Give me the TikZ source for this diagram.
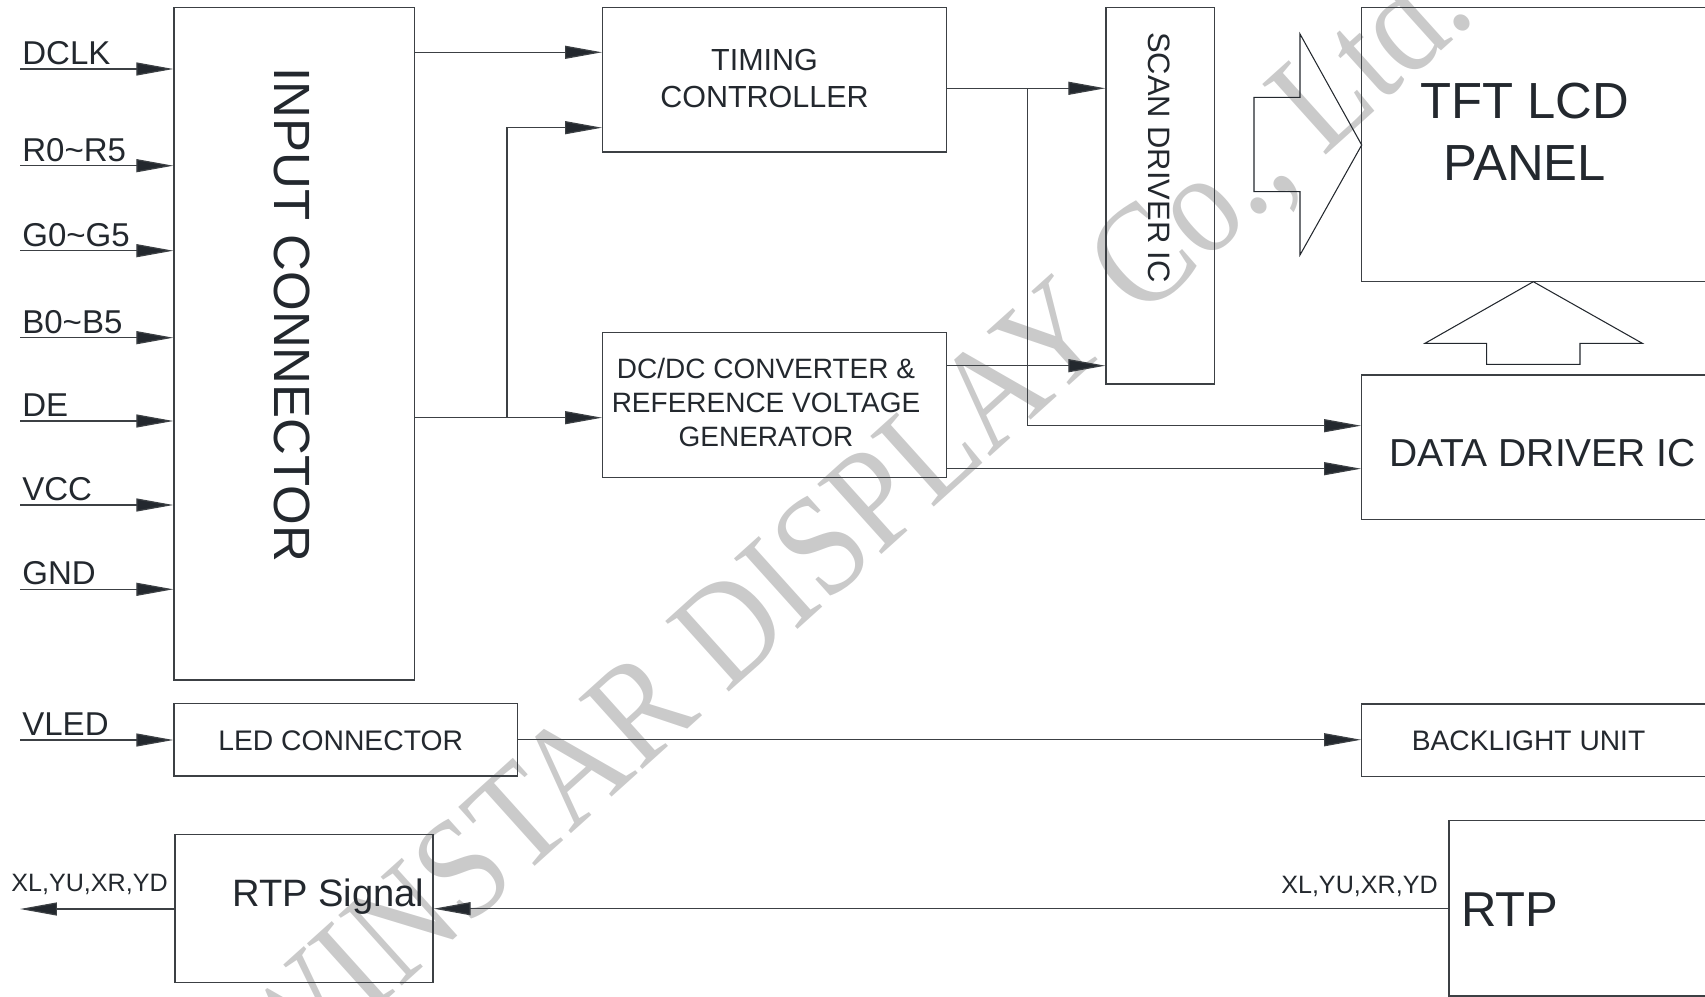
\documentclass[tikz,border=0pt]{standalone}
\usepackage{fontspec}
\setmainfont{Liberation Sans}
\newfontfamily\wmfont{Liberation Serif}
\usetikzlibrary{arrows.meta,fit}
\definecolor{ink}{RGB}{35,40,46}
\definecolor{wire}{RGB}{60,64,68}
\definecolor{wmgray}{RGB}{202,202,202}
\newcommand\fpx[2]{\fontsize{#1}{#2}\selectfont}
\begin{document}
\begin{tikzpicture}[x=0.02cm,y=-0.02cm,
  blk/.style={draw=wire, line width=0.8pt, inner sep=0pt},
  txt/.style={inner sep=0pt, text=ink},
  lab/.style={txt, anchor=base west, font=\fpx{18.8}{22}},
  conn/.style={draw=wire, line width=0.7pt},
  arr/.style={conn, -{Triangle[length=0.74cm,width=0.26cm,fill=ink]}},
  hollow/.style={draw=ink, line width=0.6pt, line join=miter},
]
\useasboundingbox (0,0) rectangle (1705,997);
\clip (0,0) rectangle (1705,997);

% watermark
\node[txt, text=wmgray, anchor=base west, rotate=42, font=\wmfont\fpx{82.5}{90}] (wmark) at (278,1098) {\scalebox{0.88}[1]{WINSTAR DISPLAY Co., Ltd.}};

% blocks
\node[blk, fit={(174,7.3) (414.5,680)}] (inconn) {};
\node[blk, fit={(602.7,7.5) (946.5,152)}] (tc) {};
\node[blk, fit={(602.7,332.7) (946.5,477.3)}] (dcdc) {};
\node[blk, fit={(1106,7.3) (1214.5,384)}] (scan) {};
\node[blk, fit={(1361.7,7.3) (1730,281.7)}] (tft) {};
\node[blk, fit={(1361.7,375) (1730,519.3)}] (data) {};
\node[blk, fit={(174,703.5) (517.7,776)}] (led) {};
\node[blk, fit={(1361.7,704) (1730,776.4)}] (bl) {};
\node[blk, fit={(175,834.7) (433,982.7)}] (rtps) {};
\node[blk, fit={(1449,820.7) (1730,996)}] (rtp) {};

% block texts
\node[txt, rotate=-90, font=\fpx{29}{35}] (tInconn) at (292,315) {INPUT CONNECTOR};
\node[txt, align=center, font=\fpx{17.36}{21.4}] (tTc) at (764.5,78.6) {TIMING\\CONTROLLER};
\node[txt, align=center, font=\fpx{15.93}{19.26}] (tDc) at (766,402.8) {DC/DC CONVERTER \&\\REFERENCE VOLTAGE\\GENERATOR};
\node[txt, rotate=-90, font=\fpx{17.6}{21}] (tScan) at (1158.7,157.5) {SCAN DRIVER IC};
\node[txt, align=center, font=\fpx{28.9}{35.3}] (tTft) at (1524.5,131.8) {TFT LCD\\PANEL};
\node[txt, anchor=base west, font=\fpx{22.2}{26}] (tData) at (1389.3,466) {DATA DRIVER IC};
\node[txt, anchor=base west, font=\fpx{16.1}{19}] (tLed) at (218,750) {LED CONNECTOR};
\node[txt, anchor=base west, font=\fpx{16.05}{19}] (tBl) at (1411.5,750.5) {BACKLIGHT UNIT};
\node[txt, anchor=base west, font=\fpx{21.7}{26}] (tRtps) at (232,906.7) {RTP Signal};
\node[txt, anchor=base west, font=\fpx{27.9}{33}] (tRtp) at (1460.7,926) {RTP};
\node[txt, anchor=base west, font=\fpx{14.3}{17}] (tXl) at (11,891.7) {XL,YU,XR,YD};
\node[txt, anchor=base east, font=\fpx{14.3}{17}] (tXr) at (1438,893.3) {XL,YU,XR,YD};

% input signals
\foreach \nm/\yy/\lb in {dclk/69/DCLK, rr/165.7/R0\textasciitilde R5, gg/250.7/G0\textasciitilde G5, bb/337.7/B0\textasciitilde B5, de/421/DE, vcc/505/VCC, gnd/589.3/GND}{
  \coordinate (s\nm) at (20,\yy);
  \draw[arr] (s\nm) -- (s\nm -| inconn.west);
  \node[lab] (l\nm) at (22,\yy-4.5) {\lb};
}
\coordinate (svled) at (20,740);
\draw[arr] (svled) -- (svled -| led.west);
\node[lab] (lvled) at (22,735) {VLED};

% internal connections
\coordinate (yTa) at (0,52.3);
\coordinate (yTb) at (0,127.7);
\coordinate (jA) at (507,417.7);
\coordinate (jB) at (1027.7,88.3);
\coordinate (yDa) at (0,425.7);
\coordinate (ySb) at (0,365.7);
\coordinate (yDb) at (0,468.7);
\coordinate (yR) at (0,908.7);
\coordinate (outR) at (20,909);

\draw[arr] (inconn.east |- yTa) -- (tc.west |- yTa);
\draw[arr] (inconn.east |- jA) -- (dcdc.west |- jA);
\draw[arr] (jA) |- (tc.west |- yTb);
\draw[arr] (tc.east |- jB) -- (scan.west |- jB);
\draw[arr] (jB) |- (data.west |- yDa);
\draw[arr] (dcdc.east |- ySb) -- (scan.west |- ySb);
\draw[arr] (dcdc.east |- yDb) -- (data.west |- yDb);
\draw[arr] (led.east) -- (bl.west |- led.east);
\draw[arr] (rtp.west |- yR) -- (rtps.east |- yR);
\draw[arr] (rtps.west |- outR) -- (outR);

% hollow arrows
\draw[hollow] (1300,34) -- (1361.7,145) -- (1300,255) -- (1300,191.7) -- (1254,191.7) -- (1254,97.3) -- (1300,97.3) -- cycle;
\draw[hollow] (1533.3,281.7) -- (1642.3,343.3) -- (1580,343.3) -- (1580,364.3) -- (1486.7,364.3) -- (1486.7,343.3) -- (1425,343.3) -- cycle;
\end{tikzpicture}
\end{document}
